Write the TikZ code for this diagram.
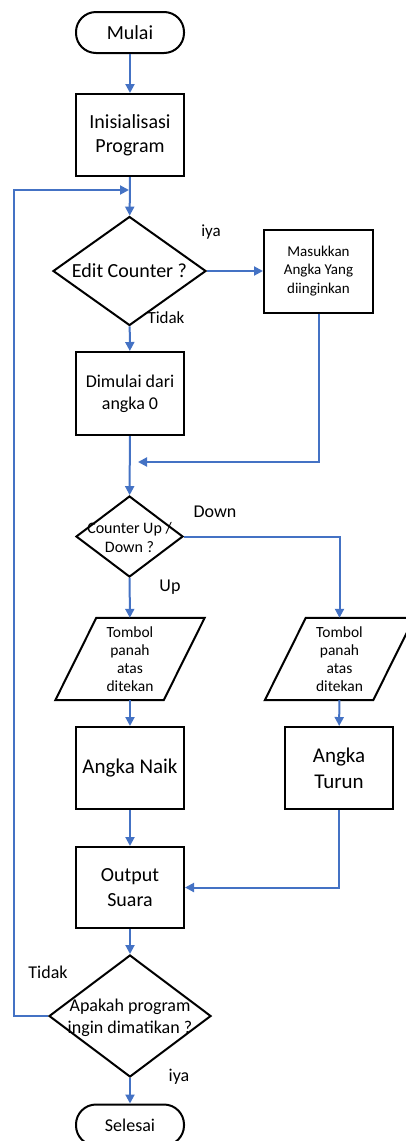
\documentclass[tikz,border=0pt]{standalone}
\usepackage{fontspec}
\setmainfont{Carlito}
\usetikzlibrary{shapes.geometric,arrows.meta,calc}
\definecolor{lnblue}{HTML}{4472C4}
\newcommand{\fs}[1]{\fontsize{#1}{1.22*#1}\selectfont}
\begin{document}
\begin{tikzpicture}[x=1pt,y=-1pt,
  box/.style={draw=black,line width=2pt,minimum width=108pt,minimum height=82pt,inner sep=0pt,align=center},
  ghost/.style={minimum width=108pt,minimum height=82pt,inner sep=0pt,align=center},
  term/.style={draw=black,line width=2pt,rounded corners=20pt,minimum width=108pt,minimum height=41pt,inner sep=0pt},
  dia/.style={draw=black,line width=2pt,diamond,inner sep=0pt},
  shp/.style={draw=black,line width=2pt,line join=miter},
  conn/.style={draw=lnblue,line width=2pt},
  arr/.style={conn,-{Triangle[length=9pt,width=9pt]}},
  lbl/.style={inner sep=0pt,font=\fontsize{17}{20}\selectfont},
]
\useasboundingbox (0,0) rectangle (405,1141);

% nodes
\node[term,font=\fontsize{20}{24}\selectfont] (start) at (130,32.5) {Mulai};
\node[box,font=\fontsize{20}{24.4}\selectfont] (init) at (130,135) {Inisialisasi\\Program};
\node[dia,minimum width=153pt,minimum height=109pt] (d1) at (129.5,271) {};
\node[inner sep=0pt,font=\fontsize{20}{24}\selectfont] (d1t) at (129.5,271) {Edit Counter ?};
\node[box,minimum width=109pt,minimum height=83pt,font=\fontsize{15}{18.3}\selectfont] (mas) at (318.5,271) {Masukkan\\Angka Yang\\diinginkan};
\node[box,minimum height=83pt,font=\fontsize{18}{22}\selectfont] (dim) at (130,393.5) {Dimulai dari\\angka 0};
\coordinate (merge) at (138,462);
\node[dia,minimum width=107pt,minimum height=81pt] (d2) at (129.5,536.5) {};
\node[inner sep=0pt,align=center,font=\fontsize{16}{19}\selectfont] (d2t) at (129.5,537.5) {Counter Up /\\Down ?};
\node[ghost,font=\fontsize{15.5}{18}\selectfont] (p1) at (130,659) {Tombol\\panah\\atas\\ditekan};
\node[ghost,font=\fontsize{15.5}{18}\selectfont] (p2) at (339.5,659) {Tombol\\panah\\atas\\ditekan};
\draw[shp] ($(p1.north west)+(20.5,0)$) -- ($(p1.north east)+(20.5,0)$) -- ($(p1.south east)+(-20.5,0)$) -- ($(p1.south west)+(-20.5,0)$) -- cycle;
\draw[shp] ($(p2.north west)+(20.5,0)$) -- ($(p2.north east)+(20.5,0)$) -- ($(p2.south east)+(-20.5,0)$) -- ($(p2.south west)+(-20.5,0)$) -- cycle;
\node[box,font=\fontsize{21}{25.6}\selectfont] (naik) at (130,768) {Angka Naik};
\node[box,font=\fontsize{21}{25.6}\selectfont] (turun) at (339,768) {Angka\\Turun};
\node[box,minimum height=81pt,font=\fontsize{20}{24.6}\selectfont] (out) at (130,887.5) {Output\\Suara};
\node[dia,minimum width=162pt,minimum height=122pt] (d3) at (130,1016) {};
\node[inner sep=0pt,align=center,font=\fontsize{18}{21.7}\selectfont] (d3t) at (130,1017.5) {Apakah program\\ingin dimatikan ?};
\node[term,font=\fontsize{18}{22}\selectfont] (end) at (130,1125) {Selesai};
\coordinate (loopin) at (129,190);

% labels
\node[lbl] (liya1) at (211,232) {iya};
\node[lbl] (ltid1) at (166,318) {Tidak};
\node[lbl,font=\fontsize{18}{21}\selectfont] (ldown) at (215,512) {Down};
\node[lbl,font=\fontsize{18}{21}\selectfont] (lup) at (170,587) {Up};
\node[lbl,font=\fontsize{18}{21}\selectfont] (ltid2) at (48,972) {Tidak};
\node[lbl,font=\fontsize{18}{21}\selectfont] (liya2) at (179,1077) {iya};

% connectors
\draw[arr] (start) -- (init);
\draw[arr] (init) -- (d1);
\draw[arr] (d1) -- (mas);
\draw[arr] (d1) -- (dim);
\draw[arr] (mas.south) |- (merge);
\draw[arr] (dim) -- (d2);
\draw[arr] (d2.east) -| (p2.north);
\draw[arr] (d2) -- (p1);
\draw[arr] (p1) -- (naik);
\draw[arr] (p2) -- (turun);
\draw[arr] (naik) -- (out);
\draw[arr] (turun.south) |- (out.east);
\draw[arr] (out) -- (d3);
\draw[arr] (d3) -- (end);
\draw[arr] (d3.west) -- (14,1016) |- (loopin);
\end{tikzpicture}
\end{document}
